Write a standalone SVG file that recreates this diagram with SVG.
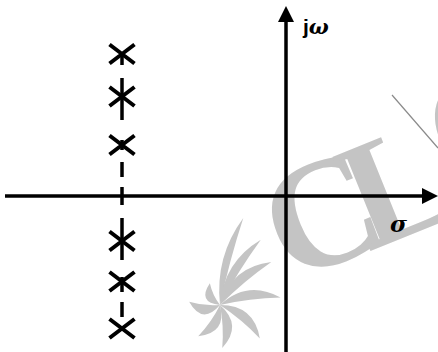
<svg xmlns="http://www.w3.org/2000/svg" width="438" height="352" viewBox="0 0 438 352">
<style>
.wm{fill:#c4c4c4}
.wt{font-family:"Liberation Serif",serif;font-weight:bold;font-size:155px}
.ax{stroke:#000;stroke-width:3.5;fill:none}
.ah{fill:#000}
.px{stroke:#000;stroke-width:4;fill:none}
.ds{stroke:#000;stroke-width:3.5}
</style>
<defs>
<path id="petal" d="M0,0 Q50,-22 100,0 Q50,-3 0,0 Z"/>
</defs>
<rect width="438" height="352" fill="#fff"/>
<g id="watermark" class="wm">
<text class="wt" x="289" y="283" transform="rotate(-22 289 283)">C</text>
<text class="wt" x="368" y="252" transform="rotate(-22 368 252)">L</text>
<text class="wt" x="452" y="190" transform="rotate(-22 452 190)">C</text>
<line x1="392" y1="95" x2="438" y2="148" stroke="#8a8a8a" stroke-width="1.2"/>
<g transform="translate(220,305)">
<use href="#petal" transform="rotate(-75) scale(0.9,0.8)"/>
<use href="#petal" transform="rotate(-58) scale(0.77,0.9)"/>
<use href="#petal" transform="rotate(-40) scale(0.67,1)"/>
<use href="#petal" transform="rotate(-7) scale(0.61,1)"/>
<use href="#petal" transform="rotate(40) scale(0.52,1)"/>
<use href="#petal" transform="rotate(87) scale(0.43,1)"/>
<use href="#petal" transform="rotate(125) scale(0.38,1)"/>
<use href="#petal" transform="rotate(186) scale(0.31,1)"/>
<use href="#petal" transform="rotate(245) scale(0.24,0.9)"/>
</g>
</g>
<g id="axes">
<line class="ax" x1="5" y1="196" x2="424" y2="196"/>
<polygon class="ah" points="422,188 438,196 422,204"/>
<line class="ax" x1="286" y1="352" x2="286" y2="20"/>
<polygon class="ah" points="278,22 286,6 294,22"/>
<text x="303" y="34" font-size="21" font-weight="bold"><tspan font-family="Liberation Sans, sans-serif">j</tspan><tspan font-family="DejaVu Serif, serif" font-style="italic">ω</tspan></text>
<text x="390" y="232" font-size="23" font-weight="bold" font-style="italic" font-family="DejaVu Serif, serif">σ</text>
</g>
<g id="connectors">
<line class="ds" x1="122" y1="53" x2="122" y2="65"/>
<line class="ds" x1="122" y1="78" x2="122" y2="120"/>
<line class="ds" x1="122" y1="140" x2="122" y2="150"/>
<line class="ds" x1="122" y1="162" x2="122" y2="177"/>
<line class="ds" x1="122" y1="187" x2="122" y2="190"/>
<line class="ds" x1="122" y1="190" x2="122" y2="205"/>
<line class="ds" x1="122" y1="218" x2="122" y2="260"/>
<line class="ds" x1="122" y1="277" x2="122" y2="292"/>
<line class="ds" x1="122" y1="302" x2="122" y2="317"/>
</g>
<g id="pole1"><path class="px" d="M109.5,44.5 L134.5,63.5 M109.5,63.5 L134.5,44.5"/></g>
<g id="pole2"><path class="px" d="M109.5,87 L134.5,106 M109.5,106 L134.5,87"/></g>
<g id="pole3"><path class="px" d="M109.5,135.5 L134.5,154.5 M109.5,154.5 L134.5,135.5"/></g>
<g id="pole4"><path class="px" d="M109.5,231.5 L134.5,250.5 M109.5,250.5 L134.5,231.5"/></g>
<g id="pole5"><path class="px" d="M109.5,272 L134.5,291 M109.5,291 L134.5,272"/></g>
<g id="pole6"><path class="px" d="M109.5,319 L134.5,338 M109.5,338 L134.5,319"/></g>
</svg>
